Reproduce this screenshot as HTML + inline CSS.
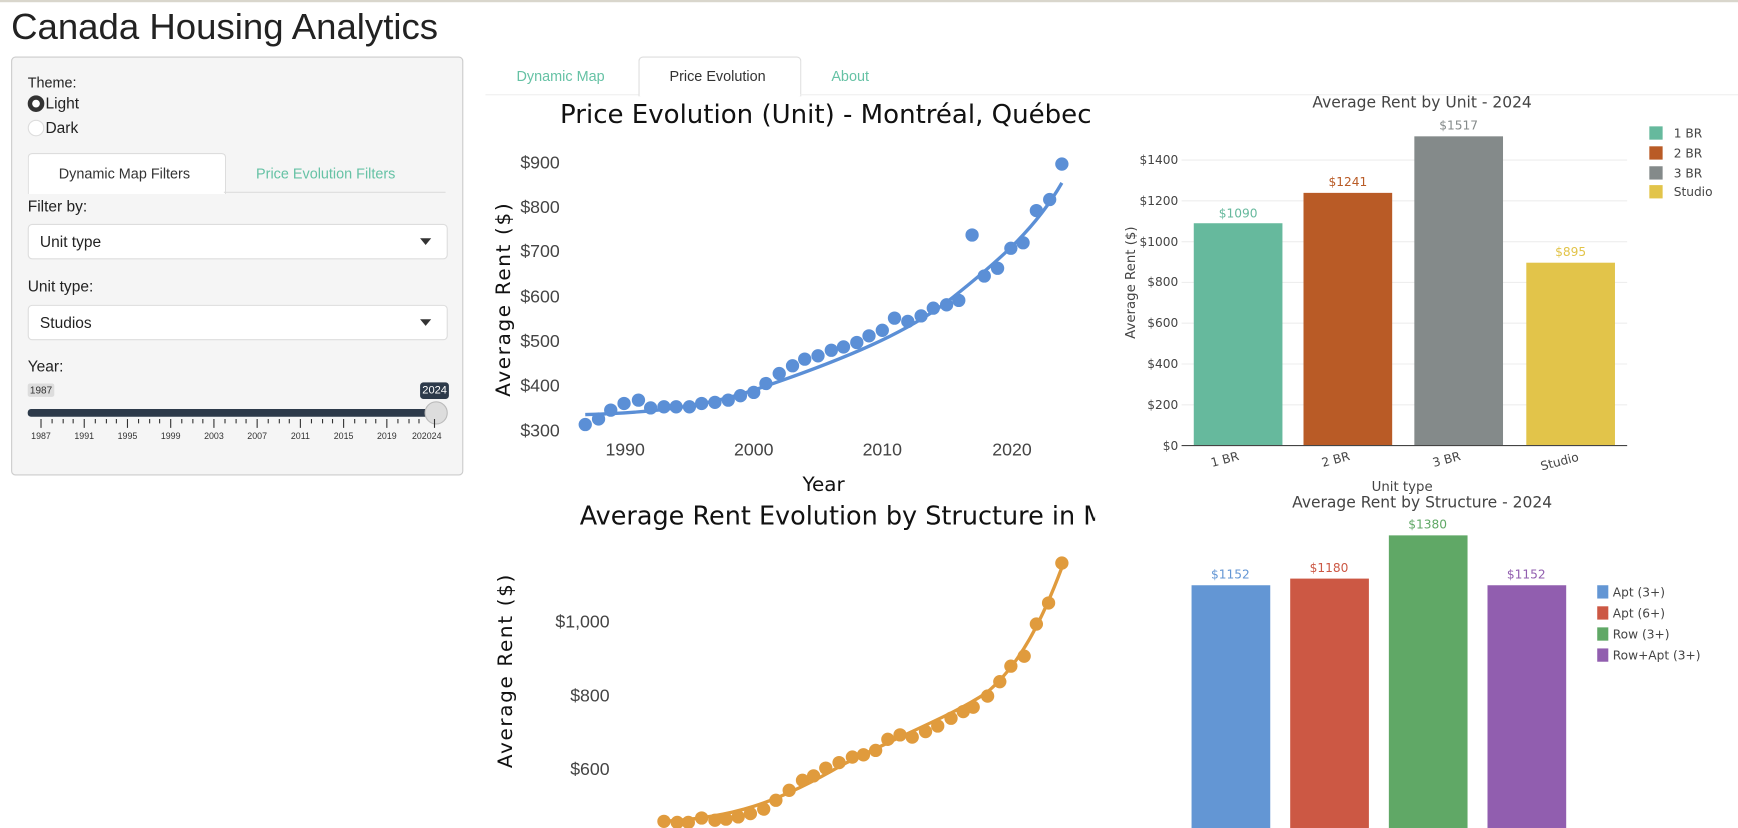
<!DOCTYPE html>
<html><head><meta charset="utf-8"><style>
html,body{margin:0;padding:0;width:1738px;height:828px;overflow:hidden;background:#fff;}
#w{position:absolute;left:0;top:0;width:1568px;height:747px;transform:scale(1.10842);transform-origin:0 0;font-family:"Liberation Sans",sans-serif;color:#222;}
.a{position:absolute;white-space:nowrap;}
.sel{position:absolute;left:25px;width:377px;height:30px;background:#fff;border:1px solid #ddd;border-radius:4px;font-size:14px;}
.sel span{position:absolute;left:10px;top:7px;}
.sel i{position:absolute;right:14px;top:12px;width:0;height:0;border-left:5px solid transparent;border-right:5px solid transparent;border-top:6px solid #333;}
</style></head><body><div id="w">
<div class="a" style="left:0;top:0;width:1568px;height:2px;background:#d9d6cc"></div>
<div class="a" style="left:10px;top:5px;font-size:33px;color:#222">Canada Housing Analytics</div>
<div class="a" style="left:10px;top:51px;width:406px;height:376px;background:#f5f5f5;border:1px solid #ccc;border-radius:4px"></div>
<div class="a" style="left:25px;top:67px;font-size:13px">Theme:</div>
<div class="a" style="left:25px;top:86px;width:7px;height:7px;border:4px solid #333;border-radius:50%;background:#fff"></div>
<div class="a" style="left:41px;top:85px;font-size:14px">Light</div>
<div class="a" style="left:25px;top:108px;width:13px;height:13px;border:1px solid #ddd;border-radius:50%;background:#fff"></div>
<div class="a" style="left:41px;top:107px;font-size:14px">Dark</div>
<div class="a" style="left:25px;top:138px;width:177px;height:36px;background:#fff;border:1px solid #ddd;border-bottom:none;border-radius:4px 4px 0 0"></div>
<div class="a" style="left:202px;top:173px;width:200px;height:1px;background:#ddd"></div>
<div class="a" style="left:53px;top:149px;font-size:13px;color:#333">Dynamic Map Filters</div>
<div class="a" style="left:231px;top:149px;font-size:13px;color:#66c2a5">Price Evolution Filters</div>
<div class="a" style="left:25px;top:178px;font-size:14px">Filter by:</div>
<div class="sel" style="top:202px"><span>Unit type</span><i></i></div>
<div class="a" style="left:25px;top:250px;font-size:14px">Unit type:</div>
<div class="sel" style="top:275px"><span>Studios</span><i></i></div>
<div class="a" style="left:25px;top:322px;font-size:14px">Year:</div>
<div class="a" style="left:25px;top:346px;padding:1px 2px;background:#ddd;border-radius:2px;font-size:9px;color:#333">1987</div>
<div class="a" style="left:379px;top:345px;padding:2px 2px;background:#2d3a4a;border-radius:3px;font-size:10px;color:#fff">2024</div>
<div class="a" style="left:25px;top:369px;width:370px;height:7px;background:#2d3a4a;border-radius:3px"></div>
<div class="a" style="left:383px;top:362px;width:19px;height:19px;background:#ddd;border:1px solid #bbb;border-radius:50%"></div>
<svg class="a" style="left:0;top:376px" width="420" height="30">
<g stroke="#333" stroke-width="1">
<path d="M37 2v8M76 2v8M115 2v8M154 2v8M193 2v8M232 2v8M271 2v8M310 2v8M349 2v8M392 2v8"/>
<path d="M47 2v4M57 2v4M66 2v4M86 2v4M96 2v4M105 2v4M125 2v4M135 2v4M144 2v4M164 2v4M174 2v4M183 2v4M203 2v4M213 2v4M222 2v4M242 2v4M252 2v4M261 2v4M281 2v4M291 2v4M300 2v4M320 2v4M330 2v4M339 2v4M359 2v4M369 2v4M378 2v4"/>
</g>
<g font-size="8" fill="#333" text-anchor="middle" font-family="Liberation Sans">
<text x="37" y="20">1987</text><text x="76" y="20">1991</text><text x="115" y="20">1995</text><text x="154" y="20">1999</text><text x="193" y="20">2003</text><text x="232" y="20">2007</text><text x="271" y="20">2011</text><text x="310" y="20">2015</text><text x="349" y="20">2019</text><text x="385" y="20">202024</text>
</g></svg>

<div class="a" style="left:576px;top:51px;width:145px;height:35px;background:#fff;border:1px solid #ddd;border-bottom:none;border-radius:4px 4px 0 0"></div>
<div class="a" style="left:438px;top:85px;width:138px;height:1px;background:#eee"></div>
<div class="a" style="left:722px;top:85px;width:846px;height:1px;background:#eee"></div>
<div class="a" style="left:466px;top:61px;font-size:13px;color:#66c2a5">Dynamic Map</div>
<div class="a" style="left:604px;top:61px;font-size:13px;color:#333">Price Evolution</div>
<div class="a" style="left:750px;top:61px;font-size:13px;color:#66c2a5">About</div>

<svg class="a" style="left:0;top:0" width="1568" height="747" font-family="DejaVu Sans, sans-serif">
<defs><clipPath id="c1"><rect x="438" y="86" width="550" height="661"/></clipPath></defs>
<g clip-path="url(#c1)">
<text x="745" y="111" font-size="23.5" text-anchor="middle" fill="#111">Price Evolution (Unit) - Montréal, Québec</text>
<g font-size="16" fill="#444" text-anchor="end" font-family="Liberation Sans, sans-serif">
<text x="505" y="152">$900</text><text x="505" y="192">$800</text><text x="505" y="232">$700</text><text x="505" y="273">$600</text><text x="505" y="313">$500</text><text x="505" y="353">$400</text><text x="505" y="394">$300</text>
</g>
<g font-size="16" fill="#444" text-anchor="middle" font-family="Liberation Sans, sans-serif">
<text x="564" y="411">1990</text><text x="680" y="411">2000</text><text x="796" y="411">2010</text><text x="913" y="411">2020</text>
</g>
<text x="743" y="443" font-size="18" text-anchor="middle" fill="#111">Year</text>
<text transform="translate(460,270) rotate(-90)" font-size="18" text-anchor="middle" fill="#111" letter-spacing="1.5">Average Rent ($)</text>
<path d="M528 374 C600 372 640 365 680 352 C760 325 820 300 860 268 C905 232 935 205 958 165" fill="none" stroke="#5b8fd6" stroke-width="3"/>
<g fill="#5b8fd6">
<circle cx="528" cy="383" r="6"/><circle cx="540" cy="378" r="6"/><circle cx="551" cy="370" r="6"/><circle cx="563" cy="364" r="6"/><circle cx="576" cy="361" r="6"/><circle cx="587" cy="368" r="6"/><circle cx="599" cy="367" r="6"/><circle cx="610" cy="367" r="6"/><circle cx="622" cy="367" r="6"/><circle cx="633" cy="364" r="6"/><circle cx="645" cy="363" r="6"/><circle cx="657" cy="361" r="6"/><circle cx="668" cy="357" r="6"/><circle cx="680" cy="354" r="6"/><circle cx="691" cy="346" r="6"/><circle cx="703" cy="337" r="6"/><circle cx="715" cy="330" r="6"/><circle cx="726" cy="324" r="6"/><circle cx="738" cy="321" r="6"/><circle cx="750" cy="316" r="6"/><circle cx="761" cy="313" r="6"/><circle cx="773" cy="309" r="6"/><circle cx="784" cy="303" r="6"/><circle cx="796" cy="298" r="6"/><circle cx="807" cy="287" r="6"/><circle cx="819" cy="290" r="6"/><circle cx="831" cy="285" r="6"/><circle cx="842" cy="278" r="6"/><circle cx="854" cy="275" r="6"/><circle cx="865" cy="271" r="6"/><circle cx="877" cy="212" r="6"/><circle cx="888" cy="249" r="6"/><circle cx="900" cy="242" r="6"/><circle cx="912" cy="224" r="6"/><circle cx="923" cy="219" r="6"/><circle cx="935" cy="190" r="6"/><circle cx="947" cy="180" r="6"/><circle cx="958" cy="148" r="6"/>
</g>

<text x="523" y="473" font-size="23" fill="#111">Average Rent Evolution by Structure in Montréal</text>
<g font-size="16" fill="#444" text-anchor="end" font-family="Liberation Sans, sans-serif">
<text x="550" y="566">$1,000</text><text x="550" y="633">$800</text><text x="550" y="699">$600</text>
</g>
<text transform="translate(462,605) rotate(-90)" font-size="18" text-anchor="middle" fill="#111" letter-spacing="1.5">Average Rent ($)</text>
<path d="M598 741 C660 738 700 725 760 690 C820 660 860 645 890 625 C920 600 940 560 958 512" fill="none" stroke="#e09b3d" stroke-width="3"/>
<g fill="#e09b3d">
<circle cx="599" cy="741" r="6"/><circle cx="611" cy="742" r="6"/><circle cx="621" cy="742" r="6"/><circle cx="633" cy="738" r="6"/><circle cx="645" cy="740" r="6"/><circle cx="655" cy="739" r="6"/><circle cx="666" cy="737" r="6"/><circle cx="677" cy="734" r="6"/><circle cx="689" cy="730" r="6"/><circle cx="700" cy="722" r="6"/><circle cx="712" cy="713" r="6"/><circle cx="724" cy="704" r="6"/><circle cx="734" cy="700" r="6"/><circle cx="745" cy="693" r="6"/><circle cx="757" cy="688" r="6"/><circle cx="769" cy="683" r="6"/><circle cx="779" cy="681" r="6"/><circle cx="790" cy="677" r="6"/><circle cx="801" cy="667" r="6"/><circle cx="812" cy="663" r="6"/><circle cx="823" cy="665" r="6"/><circle cx="835" cy="660" r="6"/><circle cx="846" cy="655" r="6"/><circle cx="858" cy="648" r="6"/><circle cx="869" cy="642" r="6"/><circle cx="878" cy="638" r="6"/><circle cx="891" cy="628" r="6"/><circle cx="902" cy="615" r="6"/><circle cx="912" cy="601" r="6"/><circle cx="924" cy="592" r="6"/><circle cx="935" cy="563" r="6"/><circle cx="946" cy="544" r="6"/><circle cx="958" cy="508" r="6"/>
</g>
</g>

<text x="1283" y="97" font-size="14" text-anchor="middle" fill="#444">Average Rent by Unit - 2024</text>
<g stroke="#eee" stroke-width="1">
<path d="M1066 365.2H1468M1066 328.4H1468M1066 291.6H1468M1066 254.8H1468M1066 218H1468M1066 181.2H1468M1066 144.4H1468"/>
</g>
<g font-size="11" fill="#444" text-anchor="end">
<text x="1063" y="406">$0</text><text x="1063" y="369">$200</text><text x="1063" y="332">$400</text><text x="1063" y="295">$600</text><text x="1063" y="258">$800</text><text x="1063" y="222">$1000</text><text x="1063" y="185">$1200</text><text x="1063" y="148">$1400</text>
</g>
<text transform="translate(1024,255) rotate(-90)" font-size="12" text-anchor="middle" fill="#444">Average Rent ($)</text>
<rect x="1077" y="201.4" width="80" height="200.6" fill="#66b99d"/>
<rect x="1176" y="174" width="80" height="228" fill="#b95b26"/>
<rect x="1276" y="123" width="80" height="279" fill="#848a8a"/>
<rect x="1377" y="237" width="80" height="165" fill="#e2c44a"/>
<path d="M1066 402H1468" stroke="#444" stroke-width="1"/>
<g font-size="11" text-anchor="middle">
<text x="1117" y="196" fill="#66b99d">$1090</text><text x="1216" y="168" fill="#b95b26">$1241</text><text x="1316" y="117" fill="#848a8a">$1517</text><text x="1417" y="231" fill="#e2c44a">$895</text>
</g>
<g font-size="11" fill="#444" text-anchor="middle">
<text transform="translate(1106,418) rotate(-15)">1 BR</text><text transform="translate(1206,418) rotate(-15)">2 BR</text><text transform="translate(1306,418) rotate(-15)">3 BR</text><text transform="translate(1408,420) rotate(-15)">Studio</text>
</g>
<text x="1265" y="443" font-size="12" text-anchor="middle" fill="#444">Unit type</text>
<g font-size="11" fill="#444">
<rect x="1488" y="114" width="12" height="12" fill="#66b99d"/><text x="1510" y="124">1 BR</text>
<rect x="1488" y="132" width="12" height="12" fill="#b95b26"/><text x="1510" y="142">2 BR</text>
<rect x="1488" y="150" width="12" height="12" fill="#848a8a"/><text x="1510" y="160">3 BR</text>
<rect x="1488" y="167" width="12" height="12" fill="#e2c44a"/><text x="1510" y="177">Studio</text>
</g>

<text x="1283" y="458" font-size="14" text-anchor="middle" fill="#444">Average Rent by Structure - 2024</text>
<rect x="1075" y="528" width="71" height="219" fill="#6396d4"/>
<rect x="1164" y="522" width="71" height="225" fill="#cc5844"/>
<rect x="1253" y="483" width="71" height="264" fill="#60a866"/>
<rect x="1342" y="528" width="71" height="219" fill="#915eaf"/>
<g font-size="11" text-anchor="middle">
<text x="1110" y="522" fill="#6396d4">$1152</text><text x="1199" y="516" fill="#cc5844">$1180</text><text x="1288" y="477" fill="#60a866">$1380</text><text x="1377" y="522" fill="#915eaf">$1152</text>
</g>
<g font-size="11" fill="#444">
<rect x="1441" y="528" width="10" height="12" fill="#6396d4"/><text x="1455" y="538">Apt (3+)</text>
<rect x="1441" y="547" width="10" height="12" fill="#cc5844"/><text x="1455" y="557">Apt (6+)</text>
<rect x="1441" y="566" width="10" height="12" fill="#60a866"/><text x="1455" y="576">Row (3+)</text>
<rect x="1441" y="585" width="10" height="12" fill="#915eaf"/><text x="1455" y="595">Row+Apt (3+)</text>
</g>
</svg>
</div></body></html>
